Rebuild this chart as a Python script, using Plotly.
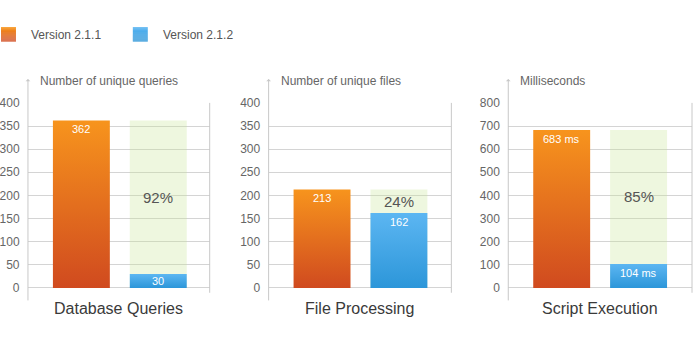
import plotly.graph_objects as go

# ---- data ----
categories = ["Database Queries", "File Processing", "Script Execution"]
axis_titles = ["Number of unique queries", "Number of unique files", "Milliseconds"]
series_names = ["Version 2.1.1", "Version 2.1.2"]
v211 = [362, 213, 683]
v212 = [30, 162, 104]
value_suffix = ["", "", " ms"]
y_max = [400, 400, 800]
y_step = [50, 50, 100]

# ---- styling / layout ----
W, H = 693, 341
panels_px = [(27, 209), (268, 451), (508, 692)]
TOP, BOT = 100, 293
UNIT = 77.0          # px per category slot
LEFT_OFF = 53.5      # px from axis to first bar centre
HALF = 28.5 / UNIT   # half bar width in data units

ORANGE = ["rgb(208,74,31)", "rgb(247,148,29)"]
BLUE = ["rgb(44,150,217)", "rgb(92,182,242)"]
GREEN = "rgba(200,230,150,0.30)"
GRID = "#d4d4d4"
LINE = "#c8c8c8"
FONT = "Liberation Sans, Arial, sans-serif"

fig = go.Figure()
annotations = []
shapes = []

ydom = [(H - BOT) / H, (H - TOP) / H]
plot_h = BOT - TOP


def rect(xc, v):
    return [xc - HALF, xc + HALF, xc + HALF, xc - HALF, xc - HALF], [0, 0, v, v, 0]


for i in range(3):
    n = "" if i == 0 else str(i + 1)
    xref, yref = "x" + n, "y" + n
    l, r = panels_px[i]
    pw = r - l
    fig.update_layout({
        "xaxis" + n: dict(domain=[l / W, r / W], range=[-LEFT_OFF / UNIT, (pw - LEFT_OFF) / UNIT],
                          showgrid=False, zeroline=False, showticklabels=False, showline=False,
                          fixedrange=True, anchor=yref),
        "yaxis" + n: dict(domain=ydom, range=[0, y_max[i]], dtick=y_step[i], tick0=0,
                          showgrid=True, gridcolor=GRID, gridwidth=1,
                          zeroline=True, zerolinecolor=GRID, zerolinewidth=1,
                          showline=False, ticks="outside", ticklen=5, tickcolor="rgba(0,0,0,0)",
                          tickfont=dict(family=FONT, size=12, color="#666666"),
                          fixedrange=True, anchor=xref),
    })
    a, b = v211[i], v212[i]
    # old value shown as pale background behind the new version's bar
    x, y = rect(1, a)
    fig.add_trace(go.Scatter(x=x, y=y, xaxis=xref, yaxis=yref, mode="lines", fill="toself",
                             fillcolor=GREEN, line=dict(width=0), hoverinfo="skip", showlegend=False))
    x, y = rect(0, a)
    fig.add_trace(go.Scatter(x=x, y=y, xaxis=xref, yaxis=yref, mode="lines", fill="toself",
                             fillgradient=dict(type="vertical", colorscale=[[0, ORANGE[0]], [1, ORANGE[1]]]),
                             line=dict(width=0), name=series_names[0], hoverinfo="skip", showlegend=False))
    x, y = rect(1, b)
    fig.add_trace(go.Scatter(x=x, y=y, xaxis=xref, yaxis=yref, mode="lines", fill="toself",
                             fillgradient=dict(type="vertical", colorscale=[[0, BLUE[0]], [1, BLUE[1]]]),
                             line=dict(width=0), name=series_names[1], hoverinfo="skip", showlegend=False))

    # value labels inside the top of each bar
    for xc, v in ((0, a), (1, b)):
        bar_px = v / y_max[i] * plot_h
        annotations.append(dict(x=xc, y=v, xref=xref, yref=yref, text=f"{v}{value_suffix[i]}",
                                showarrow=False, yanchor="middle", yshift=-min(9, bar_px / 2),
                                font=dict(family=FONT, size=11, color="white")))
    pct = round((1 - b / a) * 100)
    annotations.append(dict(x=1, y=(a + b) / 2, xref=xref, yref=yref, text=f"{pct}%",
                            showarrow=False, yanchor="middle",
                            font=dict(family=FONT, size=15, color="#555555")))
    # axis title
    annotations.append(dict(x=0, y=1 + 23 / plot_h, xref=xref + " domain", yref=yref + " domain",
                            text=axis_titles[i], showarrow=False, xanchor="left", yanchor="middle",
                            xshift=10, font=dict(family=FONT, size=12, color="#666666")))
    # category label
    annotations.append(dict(x=0.5, y=1 - 314 / H, xref=xref + " domain", yref="paper",
                            text=categories[i], showarrow=False, xanchor="center", yanchor="middle",
                            font=dict(family=FONT, size=16, color="#3a3a3a")))
    # left axis line with small arrow on top
    annotations.append(dict(x=0, y=1 + 25 / plot_h, xref=xref + " domain", yref=yref + " domain",
                            ax=0, ay=25 + plot_h + 5, axref="pixel", ayref="pixel", text="",
                            showarrow=True, arrowhead=1, arrowsize=0.8, arrowwidth=1, arrowcolor=LINE))
    # right border line
    shapes.append(dict(type="line", xref=xref + " domain", yref=yref + " domain",
                       x0=1, x1=1, y0=-5 / plot_h, y1=1, line=dict(color=LINE, width=1)))

# ---- legend (drawn manually) ----
leg_items = [(0, ORANGE), (132, BLUE)]
for (x0, cols), name in zip(leg_items, series_names):
    steps = 15
    c_top = [int(s) for s in cols[1][4:-1].split(",")]
    c_bot = [int(s) for s in cols[0][4:-1].split(",")]
    for k in range(steps):
        t = k / (steps - 1)
        c = [round(c_top[j] + (c_bot[j] - c_top[j]) * t) for j in range(3)]
        ytop = 21 + k
        shapes.append(dict(type="rect", xref="paper", yref="paper",
                           x0=x0 / W, x1=(x0 + 15) / W, y0=1 - (ytop + 1.05) / H, y1=1 - ytop / H,
                           line=dict(width=0), fillcolor=f"rgb({c[0]},{c[1]},{c[2]})"))
    annotations.append(dict(x=(x0 + 28) / W, y=1 - 29.5 / H, xref="paper", yref="paper",
                            text=name, showarrow=False, xanchor="left", yanchor="middle",
                            font=dict(family=FONT, size=12, color="#555555")))

fig.update_layout(width=W, height=H, margin=dict(l=0, r=0, t=0, b=0),
                  paper_bgcolor="white", plot_bgcolor="rgba(0,0,0,0)",
                  showlegend=False, annotations=annotations, shapes=shapes,
                  font=dict(family=FONT))

fig.write_html("out.html")
